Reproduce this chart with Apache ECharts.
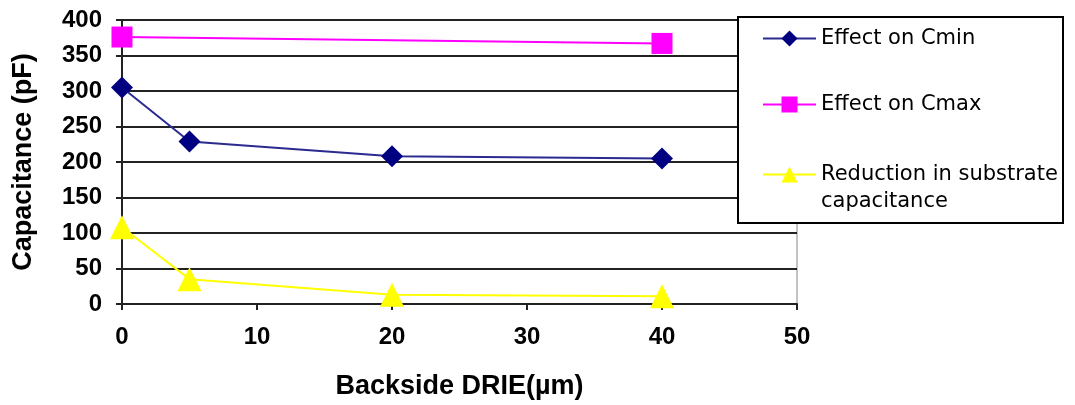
<!DOCTYPE html>
<html>
<head>
<meta charset="utf-8">
<script src="https://cdn.jsdelivr.net/npm/echarts@6/dist/echarts.min.js"></script>
<style>
html,body{margin:0;padding:0;background:#fff;}
#c{width:1075px;height:405px;}
</style>
</head>
<body>
<div id="c"></div>
<script>
// Data
const seriesNames = ['Effect on Cmin', 'Effect on Cmax', 'Reduction in substrate capacitance'];
const cminX = [0, 5, 20, 40];
const cminY = [305, 229, 208, 205];
const cmaxX = [0, 40];
const cmaxY = [376, 367];
const redX = [0, 5, 20, 40];
const redY = [108, 35, 13, 11];
const xTicks = [0, 10, 20, 30, 40, 50];
const yTicks = [0, 50, 100, 150, 200, 250, 300, 350, 400];
const xTitle = 'Backside DRIE(\u00b5m)';
const yTitle = 'Capacitance (pF)';

const pairs = (xs, ys) => xs.map((x, i) => [x, ys[i]]);

const chart = echarts.init(document.getElementById('c'), null, {renderer: 'canvas'});
const bold = {fontFamily: 'Liberation Sans, Arial, sans-serif', fontWeight: 'bold', color: '#000'};
const legendText = {fontFamily: 'DejaVu Sans, sans-serif', fontSize: 21, color: '#000', lineHeight: 27};

function mkLegend(name, top, fmt) {
  return {
    show: true, orient: 'vertical', left: 762, top: top, padding: 0,
    itemWidth: 53, itemHeight: 20, itemGap: 0, selectedMode: false,
    data: [name], textStyle: legendText,
    formatter: fmt || (n => n), z: 20
  };
}

chart.setOption({
  backgroundColor: '#fff',
  animation: false,
  grid: {left: 122, right: 278, top: 20, bottom: 101, show: true, borderColor: '#888', borderWidth: 1,
         containLabel: false, outerBoundsMode: 'none'},
  xAxis: {
    type: 'value', min: xTicks[0], max: xTicks[xTicks.length - 1], interval: 10,
    name: xTitle, nameLocation: 'middle', nameGap: 69,
    nameTextStyle: Object.assign({fontSize: 27}, bold),
    axisLine: {lineStyle: {color: '#222', width: 2}},
    axisTick: {show: true, length: 6, lineStyle: {color: '#222', width: 2}},
    axisLabel: Object.assign({fontSize: 24, margin: 21}, bold),
    splitLine: {show: false}
  },
  yAxis: {
    type: 'value', min: yTicks[0], max: yTicks[yTicks.length - 1], interval: 50,
    name: yTitle, nameLocation: 'middle', nameGap: 85,
    nameTextStyle: Object.assign({fontSize: 27}, bold),
    axisLine: {show: true, lineStyle: {color: '#222', width: 2}},
    axisTick: {show: true, length: 6, lineStyle: {color: '#222', width: 2}},
    axisLabel: Object.assign({fontSize: 24, margin: 20}, bold),
    splitLine: {show: true, lineStyle: {color: '#222', width: 2}}
  },
  legend: [
    mkLegend(seriesNames[0], 25),
    mkLegend(seriesNames[1], 91),
    mkLegend(seriesNames[2], 134, n => '\u00a0\nReduction in substrate\ncapacitance')
  ],
  graphic: [{
    type: 'rect', left: 737, top: 16, z: 10,
    shape: {width: 325, height: 206},
    style: {fill: '#fff', stroke: '#000', lineWidth: 2}
  }],
  series: [
    {name: seriesNames[0], type: 'line', data: pairs(cminX, cminY), symbol: 'diamond', symbolSize: 22,
     itemStyle: {color: '#000080'}, lineStyle: {color: '#2a2a90', width: 2}, z: 3},
    {name: seriesNames[1], type: 'line', data: pairs(cmaxX, cmaxY), symbol: 'rect', symbolSize: 21,
     itemStyle: {color: '#ff00ff'}, lineStyle: {color: '#ff00ff', width: 2}, z: 3},
    {name: seriesNames[2], type: 'line', data: pairs(redX, redY), symbol: 'triangle', symbolSize: 24,
     itemStyle: {color: '#ffff00'}, lineStyle: {color: '#ffff00', width: 2}, z: 3}
  ]
});
</script>
</body>
</html>
